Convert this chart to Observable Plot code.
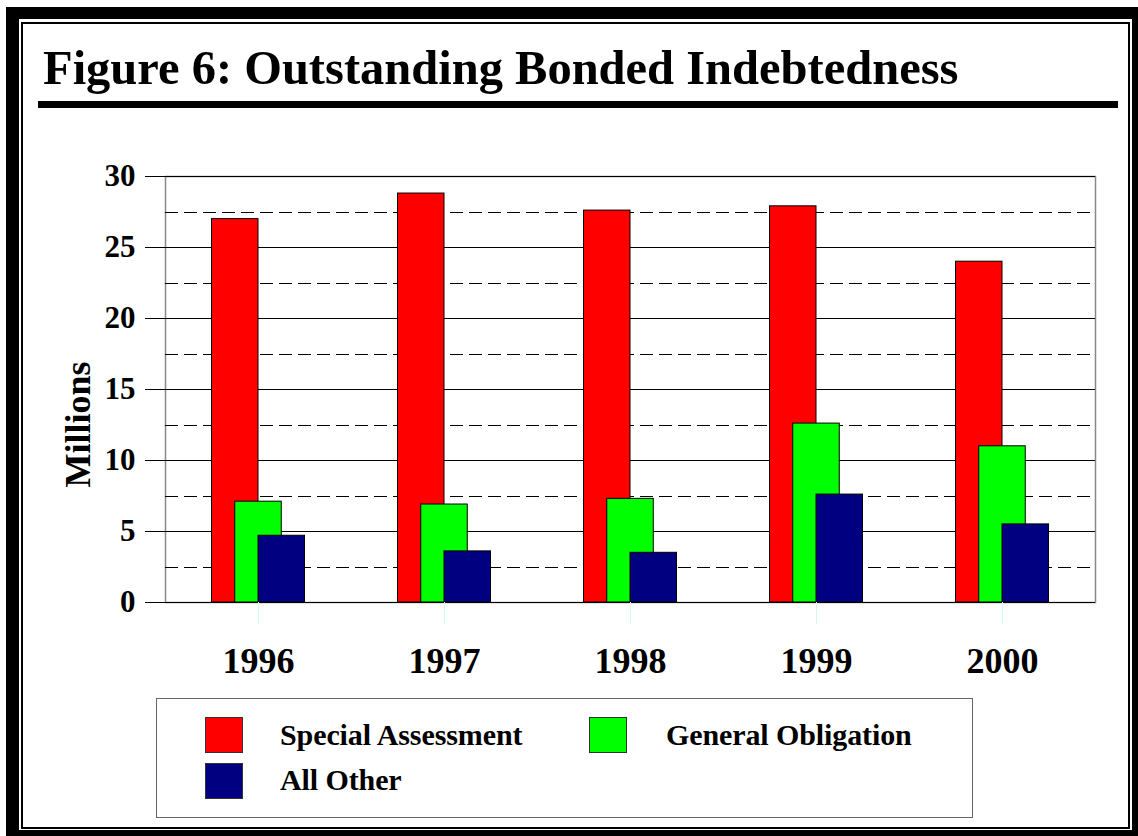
<!DOCTYPE html>
<html>
<head>
<meta charset="utf-8">
<script src="https://cdn.jsdelivr.net/npm/d3@7"></script>
<script src="https://cdn.jsdelivr.net/npm/@observablehq/plot@0.6"></script>
<style>
  html, body { margin: 0; padding: 0; background: #fff; }
  body { width: 1138px; height: 836px; position: relative; overflow: hidden;
         font-family: "Liberation Serif", "Times New Roman", serif; color: #000; }
  .blk { position: absolute; background: #000; }
  #inner { position: absolute; left: 21px; top: 22px; width: 1109px; height: 807px;
           border: 2px solid #000; box-sizing: border-box; }
  #title { position: absolute; left: 43px; top: 44px; font-size: 48.5px; line-height: 1;
           font-weight: bold; white-space: nowrap; }
  #rule { position: absolute; left: 38px; top: 101px; width: 1080px; height: 7px; background: #000; }
  #chart { position: absolute; left: 0; top: 130px; }
  #legend { position: absolute; left: 156px; top: 698px; width: 817px; height: 120px;
            border: 1px solid #666; box-sizing: border-box; }
  .sw { position: absolute; width: 38px; height: 36px; border: 1px solid #333; box-sizing: border-box; }
  .lt { position: absolute; font-size: 30px; line-height: 1; font-weight: bold; white-space: nowrap; letter-spacing: -0.1px; }
</style>
</head>
<body>
<div class="blk" style="left:6px;top:7px;width:1132px;height:12px"></div>
<div class="blk" style="left:6px;top:7px;width:13px;height:829px"></div>
<div class="blk" style="left:1132px;top:7px;width:6px;height:829px"></div>
<div class="blk" style="left:6px;top:830px;width:1132px;height:6px"></div>
<div id="inner"></div>
<div id="title">Figure 6: Outstanding Bonded Indebtedness</div>
<div id="rule"></div>
<div id="chart"></div>
<div id="legend"></div>
<script>
// ---- data ----
const years = ["1996", "1997", "1998", "1999", "2000"];
const specialAssessment = [27.0, 28.8, 27.6, 27.9, 24.0];
const generalObligation = [7.1, 6.9, 7.3, 12.6, 11.0];
const allOther = [4.7, 3.6, 3.5, 7.6, 5.5];
const seriesNames = ["Special Assessment", "General Obligation", "All Other"];
const seriesColors = ["#ff0000", "#00ff00", "#000080"];
const yTicks = [0, 5, 10, 15, 20, 25, 30];
const yMinorTicks = [2.5, 7.5, 12.5, 17.5, 22.5, 27.5];
const yLabel = "Millions";

// ---- layout ----
const W = 1138, H = 560;
const mL = 165, mR = 43, mT = 46, mB = 88;
const band = (W - mL - mR) / years.length;
const barW = band * 0.25;

const rows = (vals) => years.map((y, i) => ({year: y, value: vals[i]}));

const chart = Plot.plot({
  width: W, height: H,
  marginLeft: mL, marginRight: mR, marginTop: mT, marginBottom: mB,
  x: {domain: years, padding: 0, axis: null},
  y: {domain: [0, 30], axis: null},
  style: {fontFamily: "'Liberation Serif', 'Times New Roman', serif", color: "#000", background: "transparent", overflow: "visible"},
  marks: [
    Plot.frame({stroke: "#888", strokeWidth: 1.5}),
    Plot.ruleY(yMinorTicks, {stroke: "#000", strokeDasharray: "13,6", shapeRendering: "crispEdges"}),
    Plot.ruleY(yTicks.filter(d => d > 0), {stroke: "#000", shapeRendering: "crispEdges"}),
    Plot.axisY({ticks: yTicks, tickSize: 20, tickPadding: 10, fontSize: 31, fontWeight: "bold", label: null, stroke: "#000"}),
    Plot.barY(rows(specialAssessment), {x: "year", y: "value", fill: seriesColors[0], stroke: "#000", strokeWidth: 1,
      insetLeft: band / 2 - barW, insetRight: band / 2}),
    Plot.barY(rows(generalObligation), {x: "year", y: "value", fill: seriesColors[1], stroke: "#000", strokeWidth: 1,
      insetLeft: band / 2 - barW / 2, insetRight: band / 2 - barW / 2}),
    Plot.barY(rows(allOther), {x: "year", y: "value", fill: seriesColors[2], stroke: "#000", strokeWidth: 1,
      insetLeft: band / 2, insetRight: band / 2 - barW}),
    Plot.ruleY([0], {stroke: "#000", shapeRendering: "crispEdges"}),
    Plot.axisX({tickSize: 22, tickPadding: 23, stroke: "#d4fbe8", fill: "#000", fontSize: 36, fontWeight: "bold", label: null}),
    Plot.text([yLabel], {frameAnchor: "left", textAnchor: "middle", rotate: -90, dx: -87, dy: 35, fontSize: 36, fontWeight: "bold", fill: "#000"})
  ]
});
document.getElementById("chart").appendChild(chart);

// ---- legend ----
const legend = document.getElementById("legend");
const legendPos = [
  {sx: 49, sy: 19, tx: 124, ty: 22},
  {sx: 433, sy: 19, tx: 510, ty: 22},
  {sx: 49, sy: 65, tx: 124, ty: 67}
];
seriesNames.forEach((name, i) => {
  const p = legendPos[i];
  const sw = document.createElement("div");
  sw.className = "sw";
  sw.style.left = (p.sx - 1) + "px";
  sw.style.top = (p.sy - 1) + "px";
  sw.style.background = seriesColors[i];
  legend.appendChild(sw);
  const t = document.createElement("div");
  t.className = "lt";
  t.style.left = (p.tx - 1) + "px";
  t.style.top = (p.ty - 1) + "px";
  t.textContent = name;
  legend.appendChild(t);
});
</script>
</body>
</html>
